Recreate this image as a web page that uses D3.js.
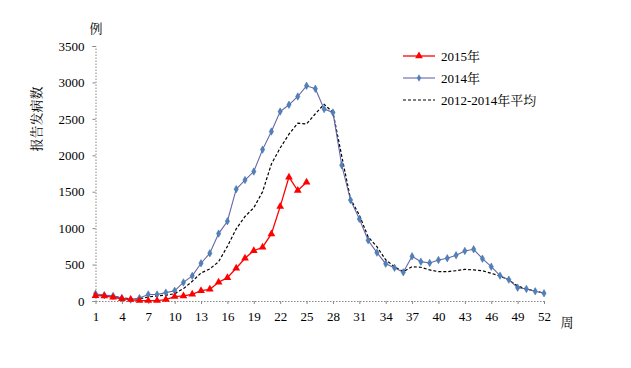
<!DOCTYPE html>
<html><head><meta charset="utf-8">
<script src="https://cdn.jsdelivr.net/npm/d3@7"></script>
<style>body{margin:0;background:#fff}svg{display:block}</style>
</head><body>
<script>
const weeks = d3.range(1, 53);
const xTicks = [1,4,7,10,13,16,19,22,25,28,31,34,37,40,43,46,49,52];
const yTicks = [0,500,1000,1500,2000,2500,3000,3500];
const s2015 = [73,70,50,30,20,5,5,5,20,60,70,92,142,160,257,320,449,587,691,738,920,1296,1700,1516,1631];
const s2014 = [100,80,70,40,20,40,90,90,115,140,255,345,518,655,925,1095,1535,1660,1777,2078,2326,2600,2693,2807,2954,2913,2634,2587,1864,1385,1127,834,664,512,457,394,614,540,522,563,587,628,687,710,581,471,348,293,183,165,133,106];
const sAvg = [85,75,65,45,30,30,55,70,80,100,170,270,385,440,540,750,990,1160,1280,1500,1880,2100,2290,2440,2430,2570,2700,2590,1990,1400,1180,880,745,565,470,403,471,463,426,403,403,416,435,426,416,380,343,288,206,165,137,106];
const seriesNames = ["2015年","2014年","2012-2014年平均"];

const FONT='"Liberation Serif","DejaVu Serif","Noto Serif CJK SC","Noto Sans CJK SC",serif';
const W=631,H=368;
const svg=d3.select("body").append("svg").attr("width",W).attr("height",H);
const x=d3.scaleLinear().domain([1,52]).range([95.5,544]);
const y=d3.scaleLinear().domain([0,3500]).range([301,46]);

const yAxis=d3.axisLeft(y).tickValues(yTicks).tickFormat(d3.format("d")).tickSize(3).tickPadding(8);
const gy=svg.append("g").attr("transform","translate(95.5,0)").call(yAxis);
gy.attr("font-family",null);
gy.select(".domain").attr("stroke","#888").attr("stroke-dasharray","1.5,1.5");
gy.selectAll(".tick line").attr("stroke","#888");
gy.selectAll("text").style("font-size","13px").style("font-family",FONT).attr("fill","#000");

const xAxis=d3.axisBottom(x).tickValues(xTicks).tickFormat(d3.format("d")).tickSize(3).tickPadding(8).tickSizeOuter(0);
const gx=svg.append("g").attr("transform","translate(0,301)").call(xAxis);
gx.select(".domain").attr("stroke","#888").attr("stroke-dasharray","1.5,1.5");
gx.selectAll(".tick line").attr("stroke","#888");
gx.selectAll("text").style("font-size","13px").style("font-family",FONT).attr("fill","#000");

function txt(g){return g.append("text").style("font-size","13px").style("font-family",FONT).attr("fill","#000");}
txt(svg).attr("x",96).attr("y",33).attr("text-anchor","middle").text("例");
txt(svg).attr("x",567).attr("y",327).attr("text-anchor","middle").text("周");
txt(svg).attr("transform","translate(41,119) rotate(-90)").attr("text-anchor","middle").text("报告发病数");

const line=d3.line().x((d,i)=>x(i+1)).y(d=>y(d));

svg.append("path").datum(sAvg).attr("d",line).attr("fill","none").attr("stroke","#000").attr("stroke-width",1.2).attr("stroke-dasharray","3,2");
svg.append("path").datum(s2014).attr("d",line).attr("fill","none").attr("stroke","#6466a6").attr("stroke-width",1.1);
const diamond=d3.symbol().type(d3.symbolDiamond).size(16);
svg.append("g").selectAll("path").data(s2014).join("path")
 .attr("transform",(d,i)=>`translate(${x(i+1)},${y(d)})`).attr("d",diamond)
 .attr("fill","#4f81bd").attr("stroke","#3d6aa0").attr("stroke-width",0.5);
svg.append("path").datum(s2015).attr("d",line).attr("fill","none").attr("stroke","#ff0000").attr("stroke-width",1.3);
const tri=d3.symbol().type(d3.symbolTriangle).size(26);
svg.append("g").selectAll("path").data(s2015).join("path")
 .attr("transform",(d,i)=>`translate(${x(i+1)},${y(d)})`).attr("d",tri).attr("fill","#ff0000");

const lg=svg.append("g");
const ly=[56,78,100];
lg.append("line").attr("x1",403).attr("x2",435).attr("y1",ly[0]).attr("y2",ly[0]).attr("stroke","#ff0000").attr("stroke-width",1.3);
lg.append("path").attr("transform",`translate(419,${ly[0]})`).attr("d",tri).attr("fill","#ff0000");
lg.append("line").attr("x1",403).attr("x2",435).attr("y1",ly[1]).attr("y2",ly[1]).attr("stroke","#6466a6").attr("stroke-width",1.1);
lg.append("path").attr("transform",`translate(419,${ly[1]})`).attr("d",diamond).attr("fill","#4f81bd");
lg.append("line").attr("x1",403).attr("x2",435).attr("y1",ly[2]).attr("y2",ly[2]).attr("stroke","#000").attr("stroke-width",1.2).attr("stroke-dasharray","3,2");
seriesNames.forEach((n,i)=>txt(lg).attr("x",441).attr("y",ly[i]+4.5).text(n));
</script>
</body></html>
